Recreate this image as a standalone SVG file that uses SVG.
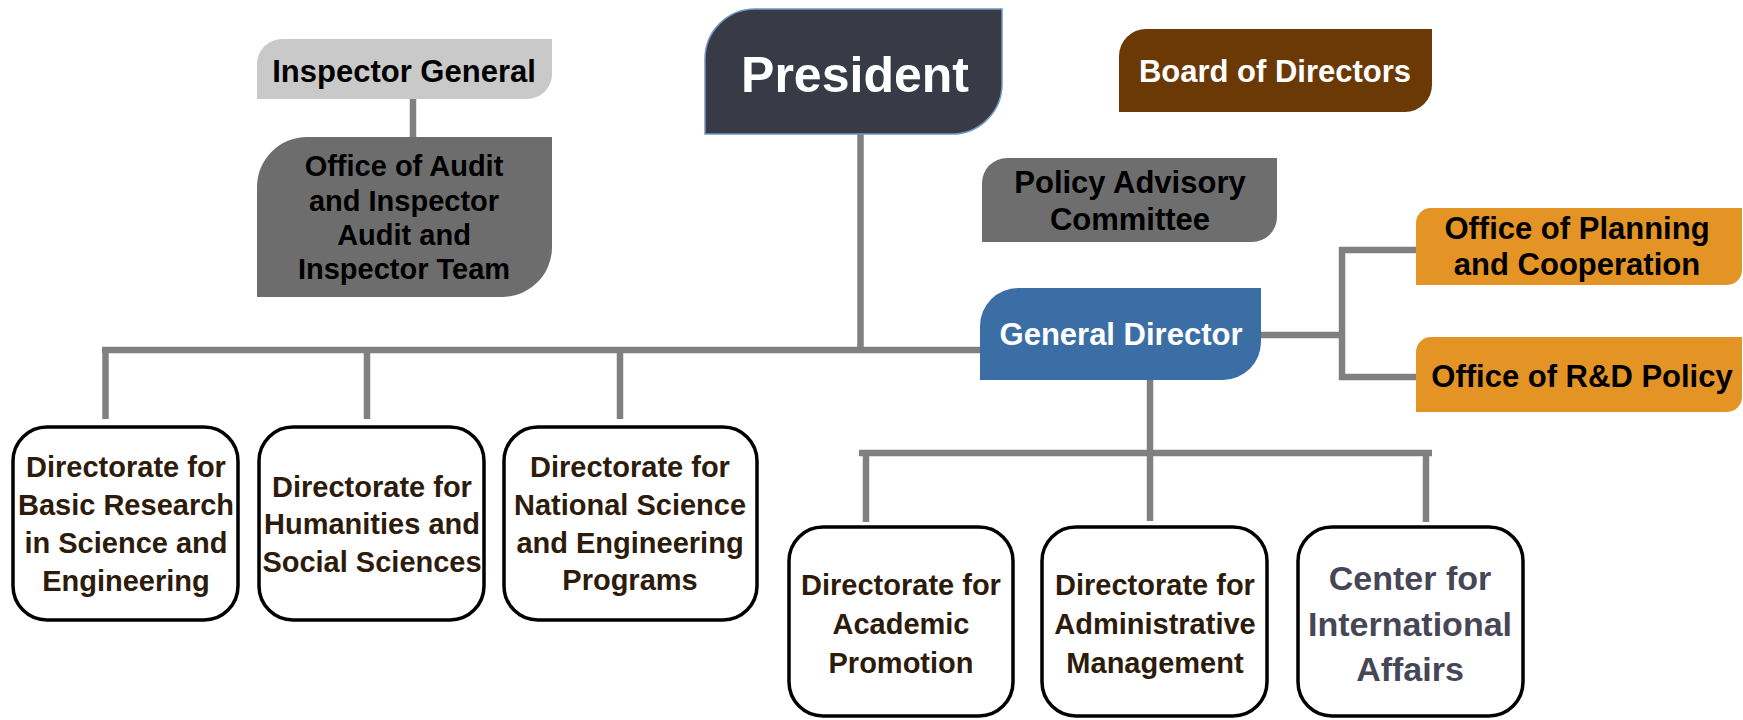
<svg xmlns="http://www.w3.org/2000/svg" width="1743" height="720" viewBox="0 0 1743 720">
<style>
  text { font-family: "Liberation Sans", Arial, sans-serif; font-weight: bold; text-anchor: middle; }
  .t31 { font-size: 31px; }
  .tw { fill: #ffffff; }
  .tk { fill: #000000; }
  .dir { font-size: 29px; fill: #2d1b0c; }
  .cia { font-size: 34px; fill: #464657; }
  .box { fill: #ffffff; stroke: #000000; stroke-width: 3.5; }
  .conn line { stroke: #808080; stroke-width: 6.5; stroke-linecap: butt; }
</style>
<rect width="1743" height="720" fill="#ffffff"/>

<g id="connectors" class="conn">
  <line x1="413" y1="99" x2="413" y2="137"/>
  <line x1="860.5" y1="134" x2="860.5" y2="353"/>
  <line x1="102" y1="350" x2="980" y2="350"/>
  <line x1="105.5" y1="347" x2="105.5" y2="419"/>
  <line x1="367" y1="350" x2="367" y2="419"/>
  <line x1="620" y1="350" x2="620" y2="419"/>
  <line x1="1261" y1="335" x2="1342" y2="335"/>
  <line x1="1342" y1="247" x2="1342" y2="380"/>
  <line x1="1339" y1="250" x2="1416" y2="250"/>
  <line x1="1339" y1="377" x2="1416" y2="377"/>
  <line x1="1150" y1="380" x2="1150" y2="521"/>
  <line x1="859" y1="453" x2="1432" y2="453"/>
  <line x1="866" y1="450" x2="866" y2="522"/>
  <line x1="1426" y1="450" x2="1426" y2="522"/>
</g>

<g id="inspector-general">
  <path d="M282,39 H552 V74 A25,25 0 0 1 527,99 H257 V64 A25,25 0 0 1 282,39 Z" fill="#c9c9c9"/>
  <text class="t31 tk" x="404" y="82">Inspector General</text>
</g>

<g id="office-audit">
  <path d="M307,137 H552 V247 A50,50 0 0 1 502,297 H257 V187 A50,50 0 0 1 307,137 Z" fill="#6d6d6d"/>
  <text class="tk" style="font-size:29px" x="404" y="176">Office of Audit</text>
  <text class="tk" style="font-size:29px" x="404" y="211">and Inspector</text>
  <text class="tk" style="font-size:29px" x="404" y="245">Audit and</text>
  <text class="tk" style="font-size:29px" x="404" y="279">Inspector Team</text>
</g>

<g id="president">
  <path d="M755,9 H1002 V84 A50,50 0 0 1 952,134 H705 V59 A50,50 0 0 1 755,9 Z" fill="#383b46" stroke="#7097c4" stroke-width="1.5"/>
  <text class="tw" style="font-size:50px" x="855" y="92">President</text>
</g>

<g id="board-of-directors">
  <path d="M1146,29 H1432 V85 A27,27 0 0 1 1405,112 H1119 V56 A27,27 0 0 1 1146,29 Z" fill="#6b3906"/>
  <text class="t31 tw" x="1275" y="82">Board of Directors</text>
</g>

<g id="policy-advisory">
  <path d="M1007,158 H1277 V217 A25,25 0 0 1 1252,242 H982 V183 A25,25 0 0 1 1007,158 Z" fill="#6e6e6e"/>
  <text class="t31 tk" x="1130" y="193">Policy Advisory</text>
  <text class="t31 tk" x="1130" y="230">Committee</text>
</g>

<g id="general-director">
  <path d="M1018,288 H1261 V342 A38,38 0 0 1 1223,380 H980 V326 A38,38 0 0 1 1018,288 Z" fill="#3b6ea5"/>
  <text class="t31 tw" x="1121" y="345">General Director</text>
</g>

<g id="office-planning">
  <path d="M1431,208 H1742 V270 A15,15 0 0 1 1727,285 H1416 V223 A15,15 0 0 1 1431,208 Z" fill="#e39425"/>
  <text class="t31 tk" x="1577" y="239">Office of Planning</text>
  <text class="t31 tk" x="1577" y="275">and Cooperation</text>
</g>

<g id="office-rd-policy">
  <path d="M1431,337 H1742 V397 A15,15 0 0 1 1727,412 H1416 V352 A15,15 0 0 1 1431,337 Z" fill="#e39425"/>
  <text class="t31 tk" x="1582" y="387">Office of R&amp;D Policy</text>
</g>

<g id="dir-basic-research">
  <rect class="box" x="13" y="427" width="225" height="193" rx="34" ry="34"/>
  <text class="dir" x="126" y="477">Directorate for</text>
  <text class="dir" x="126" y="515">Basic Research</text>
  <text class="dir" x="126" y="553">in Science and</text>
  <text class="dir" x="126" y="591">Engineering</text>
</g>

<g id="dir-humanities">
  <rect class="box" x="259" y="427" width="225" height="193" rx="34" ry="34"/>
  <text class="dir" x="372" y="497">Directorate for</text>
  <text class="dir" x="372" y="534">Humanities and</text>
  <text class="dir" x="372" y="572">Social Sciences</text>
</g>

<g id="dir-national-programs">
  <rect class="box" x="504" y="427" width="253" height="193" rx="34" ry="34"/>
  <text class="dir" x="630" y="477">Directorate for</text>
  <text class="dir" x="630" y="515">National Science</text>
  <text class="dir" x="630" y="553">and Engineering</text>
  <text class="dir" x="630" y="590">Programs</text>
</g>

<g id="dir-academic-promotion">
  <rect class="box" x="789" y="527" width="224" height="189" rx="34" ry="34"/>
  <text class="dir" x="901" y="595">Directorate for</text>
  <text class="dir" x="901" y="634">Academic</text>
  <text class="dir" x="901" y="673">Promotion</text>
</g>

<g id="dir-administrative">
  <rect class="box" x="1042" y="527" width="225" height="189" rx="34" ry="34"/>
  <text class="dir" x="1155" y="595">Directorate for</text>
  <text class="dir" x="1155" y="634">Administrative</text>
  <text class="dir" x="1155" y="673">Management</text>
</g>

<g id="center-international">
  <rect class="box" x="1298" y="527" width="225" height="189" rx="34" ry="34"/>
  <text class="cia" x="1410" y="590">Center for</text>
  <text class="cia" x="1410" y="636">International</text>
  <text class="cia" x="1410" y="681">Affairs</text>
</g>
</svg>
